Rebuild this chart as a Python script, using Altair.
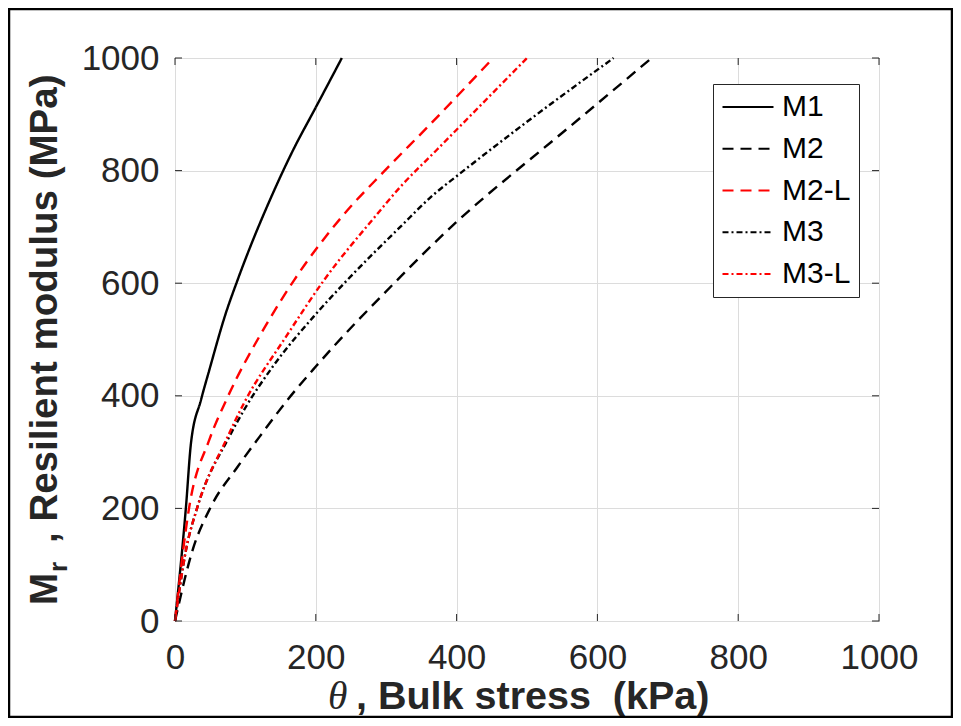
import altair as alt
import pandas as pd

series = ["M1", "M2", "M2-L", "M3", "M3-L"]
colors = ["#000000", "#000000", "#ff0000", "#000000", "#ff0000"]
dashes = [[1, 0], [11, 7], [11, 7], [6, 3, 2, 3], [6, 3, 2, 3]]

m1_theta = [0, 15.6, 22.7, 37, 48.8, 72, 89, 142, 168, 199, 237]
m1_mr = [0, 203, 316, 393, 446, 546, 606, 768, 837, 910, 1000]
m2_theta = [0, 25, 51, 89, 120, 160, 200, 316, 400, 480, 521, 677]
m2_mr = [0, 126, 203, 274, 327, 393, 452, 606, 709, 795, 837, 1000]
m2l_theta = [0, 20.3, 48.8, 73, 129, 169.5, 237, 298, 360, 452]
m2l_mr = [0, 203, 322, 393, 525, 606, 718, 800, 879, 1000]
m3_theta = [0, 15.6, 32, 77, 101, 139, 200, 245, 320, 367, 400, 495, 623]
m3_mr = [0, 126, 203, 327, 381, 452, 545, 606, 700, 757, 790, 882, 1000]
m3l_theta = [0, 15.6, 32, 72.4, 98, 157.7, 212, 284, 320, 372, 500]
m3l_mr = [0, 126, 203, 321, 387, 505, 606, 718, 771, 837, 1000]

ticks = [0, 200, 400, 600, 800, 1000]
x_symbol = "θ"
x_title = ", Bulk stress\u00a0 (kPa)"
y_title_main = "M"
y_title_sub = "r"
y_title_rest = ", Resilient modulus (MPa)"

rows = []
for name, th, mr in [("M1", m1_theta, m1_mr), ("M2", m2_theta, m2_mr),
                     ("M2-L", m2l_theta, m2l_mr), ("M3", m3_theta, m3_mr),
                     ("M3-L", m3l_theta, m3l_mr)]:
    for a, b in zip(th, mr):
        rows.append({"series": name, "theta": a, "mr": b})
df = pd.DataFrame(rows)
tdf = pd.DataFrame({"v": ticks})

W, H = 704, 563
AX = "#262626"
xs = alt.Scale(domain=[0, 1000], nice=False, zero=False)
ys = alt.Scale(domain=[0, 1000], nice=False, zero=False)

lab = dict(values=ticks, format="d", domain=False, ticks=False, grid=True,
           gridColor="#dcdcdc", gridWidth=1, labelFont="Liberation Sans",
           labelFontSize=35, labelColor=AX, labelFlush=False, title=None)
x_axis = alt.Axis(orient="bottom", labelPadding=19, **lab)
y_axis = alt.Axis(orient="left", labelPadding=16, **lab)

leg = alt.Legend(title=None, orient="none", legendX=538, legendY=26,
                 symbolType="stroke", symbolSize=2601, symbolStrokeWidth=2.2,
                 labelFont="Liberation Sans", labelFontSize=30, labelColor="#000000",
                 clipHeight=30, rowPadding=11.75, padding=8, labelOffset=7,
                 strokeColor=AX, fillColor="white")

lines = alt.Chart(df).mark_line(strokeWidth=2.4, interpolate="monotone").encode(
    x=alt.X("theta:Q", scale=xs, axis=x_axis),
    y=alt.Y("mr:Q", scale=ys, axis=y_axis),
    color=alt.Color("series:N", scale=alt.Scale(domain=series, range=colors), legend=leg),
    strokeDash=alt.StrokeDash("series:N", scale=alt.Scale(domain=series, range=dashes), legend=leg),
)

TL = 7
tick_bottom = alt.Chart(tdf).mark_rule(color=AX, strokeWidth=1).encode(
    x=alt.X("v:Q", scale=xs, axis=x_axis), y=alt.value(H), y2=alt.value(H - TL))
tick_top = alt.Chart(tdf).mark_rule(color=AX, strokeWidth=1).encode(
    x=alt.X("v:Q", scale=xs, axis=x_axis), y=alt.value(0), y2=alt.value(TL))
tick_left = alt.Chart(tdf).mark_rule(color=AX, strokeWidth=1).encode(
    y=alt.Y("v:Q", scale=ys, axis=y_axis), x=alt.value(0), x2=alt.value(TL))
tick_right = alt.Chart(tdf).mark_rule(color=AX, strokeWidth=1).encode(
    y=alt.Y("v:Q", scale=ys, axis=y_axis), x=alt.value(W), x2=alt.value(W - TL))


def txt(s, x, y, **kw):
    return alt.Chart(pd.DataFrame({"t": [s]})).mark_text(**kw).encode(
        text="t:N", x=alt.value(x), y=alt.value(y))


TF = 38.5
XF = 39.5
ttl = dict(font="Liberation Sans", fontWeight="bold", color=AX, baseline="alphabetic", align="left")
t_theta = txt(x_symbol, 153, 651, font="Liberation Serif", fontStyle="italic",
              fontSize=XF, color=AX, baseline="alphabetic", align="left")
t_x = txt(x_title, 181, 651, fontSize=XF, **ttl)
t_M = txt(y_title_main, -118, 547, angle=270, fontSize=TF, **ttl)
t_r = txt(y_title_sub, -108, 514, angle=270, fontSize=26, **ttl)
t_y = txt(y_title_rest, -118, 485, angle=270, fontSize=TF, **ttl)

frame = alt.Chart(pd.DataFrame({"a": [0]})).mark_rect(
    fillOpacity=0, stroke="#000000", strokeWidth=2.5).encode(
    x=alt.value(-166), x2=alt.value(777), y=alt.value(-49), y2=alt.value(659))

chart = alt.layer(
    lines, tick_bottom, tick_top, tick_left, tick_right,
    t_theta, t_x, t_M, t_r, t_y, frame
).properties(
    width=W, height=H,
    padding={"left": 167, "top": 50, "right": 74, "bottom": 97},
    autosize=alt.AutoSizeParams(type="none"),
    background="white",
).configure_view(stroke=AX, strokeWidth=1)

chart.save("out.html", embed_options={"renderer": "svg", "actions": False})
